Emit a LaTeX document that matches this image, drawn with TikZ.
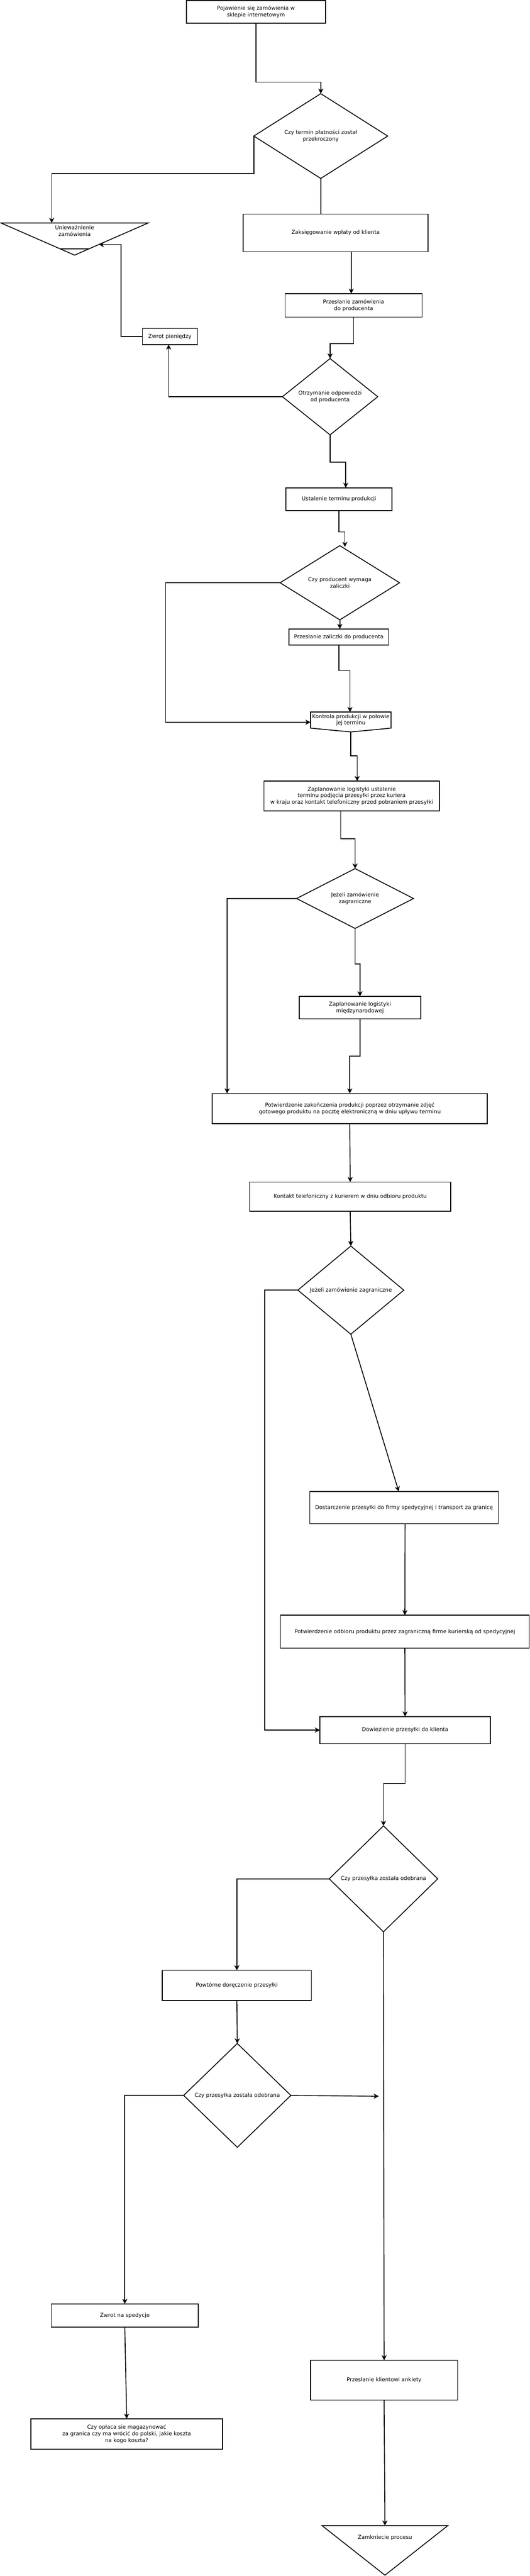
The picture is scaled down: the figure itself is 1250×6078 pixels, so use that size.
\documentclass[tikz,border=0pt]{standalone}
\usepackage{fontspec}
\setmainfont{DejaVu Sans}
\usetikzlibrary{shapes.geometric,arrows.meta,calc}
\begin{document}
\begin{tikzpicture}[x=1pt,y=-1pt,
  every node/.style={font=\fontsize{12.7}{15.5}\selectfont, align=center, inner sep=0pt, outer sep=0pt},
  box/.style={draw, line width=2pt, rectangle},
  dec/.style={draw, line width=2pt, diamond},
  conn/.style={line width=2pt},
  arr/.style={line width=2pt, -{Stealth[length=12pt,width=12pt,inset=3.5pt]}},
]
\useasboundingbox (0,0) rectangle (1250,6078);
\fill[white] (0,0) rectangle (1250,6078);

% nodes
\node[box, minimum width=328pt, minimum height=54pt] (start) at (604,28) {Pojawienie się zamówienia w\\sklepie internetowym};
\node[dec, minimum width=316pt, minimum height=159pt] (d1) at (757,321) {Czy termin płatności został\\przekroczony};
\node[minimum width=348pt, minimum height=38pt] (uniew) at (176,545) {Unieważnienie\\zamówienia};
\coordinate (uv) at ($(uniew.north)+(0,76)$);
\draw[conn] (uniew.north west) -- (uniew.north east) -- (uv) -- cycle;
\draw[conn] ($(uniew.north west)!0.8!(uv)$) -- ($(uniew.north east)!0.8!(uv)$);
\coordinate (utip) at ($(uniew.north east)!0.671!(uv)$);
\node[box, minimum width=436pt, minimum height=89pt] (zaks) at (792,549.5) {Zaksięgowanie wpłaty od klienta};
\node[box, minimum width=323pt, minimum height=55pt] (przes) at (834.5,720.5) {Przesłanie zamówienia\\do producenta};
\node[box, minimum width=130pt, minimum height=38pt] (zwrot) at (401,794) {Zwrot pieniędzy};
\node[dec, minimum width=225pt, minimum height=180pt] (d2) at (779,936) {Otrzymanie odpowiedzi\\od producenta};
\node[box, minimum width=250pt, minimum height=54pt] (ustal) at (800,1178) {Ustalenie terminu produkcji};
\node[dec, minimum width=282pt, minimum height=140pt] (d3) at (802,1375) {Czy producent wymaga\\zaliczki};
\node[box, minimum width=235pt, minimum height=38pt] (zal) at (799.5,1503) {Przesłanie zaliczki do producenta};
\node[minimum width=190pt, minimum height=38pt] (kontr) at (828,1699) {Kontrola produkcji w połowie\\jej terminu};
\coordinate (kv) at ($(kontr.south)+(0,9)$);
\draw[conn] (kontr.south west) -- (kontr.north west) -- (kontr.north east) -- (kontr.south east) -- (kv) -- cycle;
\node[box, minimum width=414pt, minimum height=70pt] (zapl) at (830,1878) {Zaplanowanie logistyki ustalenie\\terminu podjęcia przesyłki przez kuriera\\w kraju oraz kontakt telefoniczny przed pobraniem przesyłki};
\node[dec, minimum width=276pt, minimum height=137pt] (d4) at (838,2120) {Jeżeli zamówienie\\zagraniczne};
\node[box, minimum width=287pt, minimum height=53pt] (mied) at (849.5,2377.5) {Zaplanowanie logistyki\\międzynarodowej};
\node[box, minimum width=649pt, minimum height=71pt] (potw) at (825.5,2615.5) {Potwierdzenie zakończenia produkcji poprzez otrzymanie zdjęć\\gotowego produktu na pocztę elektroniczną w dniu upływu terminu};
\node[box, minimum width=475pt, minimum height=69pt] (kont) at (826.5,2823.5) {Kontakt telefoniczny z kurierem w dniu odbioru produktu};
\node[dec, minimum width=250pt, minimum height=208pt] (d5) at (828,3044) {Jeżeli zamówienie zagraniczne};
\node[box, minimum width=445pt, minimum height=76pt] (dost) at (953.5,3557) {Dostarczenie przesyłki do firmy spedycyjnej i transport za granicę};
\node[box, minimum width=587pt, minimum height=78pt] (potw2) at (955.5,3850) {Potwierdzenie odbioru produktu przez zagraniczną firme kurierską od spedycyjnej};
\node[box, minimum width=402pt, minimum height=64pt] (dowi) at (956,4082) {Dowiezienie przesyłki do klienta};
\node[dec, minimum width=256pt, minimum height=250pt] (d6) at (905,4433) {Czy przesyłka została odebrana};
\node[box, minimum width=352pt, minimum height=71pt] (pow) at (559,4684.5) {Powtórne doręczenie przesyłki};
\node[dec, minimum width=253pt, minimum height=245pt] (d7) at (560,4944) {Czy przesyłka została odebrana};
\coordinate (d7end) at (894,4946);
\node[box, minimum width=347pt, minimum height=55pt] (zsped) at (294.5,5463.5) {Zwrot na spedycje};
\node[box, minimum width=452pt, minimum height=72pt] (copl) at (299,5743) {Czy opłaca sie magazynować\\za granica czy ma wrócić do polski, jakie koszta\\na kogo koszta?};
\node[box, minimum width=347pt, minimum height=94pt] (ank) at (906.5,5616) {Przesłanie klientowi ankiety};
\node[minimum width=297pt, minimum height=58pt] (zamk) at (908.5,5988) {Zamkniecie procesu};
\coordinate (zv) at ($(zamk.north)+(0,117)$);
\draw[conn] (zamk.north west) -- (zamk.north east) -- (zv) -- cycle;

% connectors
\draw[arr] (start.south) -- ++(0,139) -| (d1.north);
\draw[arr] (d1.west) -- ++(0,89) -| ($(uniew.north)+(-54,0)$);
\draw[conn] (d1.south) -- (zaks.north -| d1.south);
\draw[arr] ($(zaks.south)+(37,0)$) -- ($(przes.north)+(-5.5,0)$);
\draw[arr] (przes.south) -- ++(0,63) -| (d2.north);
\draw[arr] (d2.west) -| ($(zwrot.south)+(-3,0)$);
\draw[arr] (zwrot.west) -- ++(-50,0) |- (utip);
\draw[arr] (d2.south) -- ++(0,64) -| ($(ustal.north)+(16,0)$);
\draw[arr] (ustal.south) -- ++(0,50) -| ($(d3.north)+(12,3)$);
\draw[arr] (d3.south) -- (d3.south |- zal.north);
\draw[arr] (d3.west) -- ++(-270,0) |- ($(kontr.west)+(0,5)$);
\draw[arr] (zal.south) -- ++(0,60) -| ($(kontr.north)+(-2,0)$);
\draw[arr] (kv) -- ++(0,56) -| ($(zapl.north)+(13,0)$);
\draw[arr] ($(zapl.south)+(-26,0)$) -- ++(0,66) -| (d4.north);
\draw[arr] (d4.west) -| ($(potw.north west)+(35,0)$);
\draw[arr] (d4.south) -- ++(0,84) -| (mied.north);
\draw[arr] (mied.south) -- ++(0,88) -| (potw.north);
\draw[arr] (potw.south) -- (kont.north);
\draw[arr] (kont.south) -- (d5.north);
\draw[arr] (d5.west) -- ++(-78,0) |- (dowi.west);
\draw[arr] (d5.south) -- ($(dost.north)+(-12.5,0)$);
\draw[arr] ($(dost.south)+(2.5,0)$) -- (potw2.north);
\draw[arr] (potw2.south) -- (dowi.north);
\draw[arr] (dowi.south) -- ++(0,94) -| (d6.north);
\draw[arr] (d6.west) -| (pow.north);
\draw[arr] (pow.south) -- (d7.north);
\draw[arr] (d7.east) -- (d7end);
\draw[arr] (d7.west) -| (zsped.north);
\draw[arr] (zsped.south) -- (copl.north);
\draw[arr] (d6.south) -- (ank.north);
\draw[arr] (ank.south) -- (zamk.north);
\end{tikzpicture}
\end{document}
